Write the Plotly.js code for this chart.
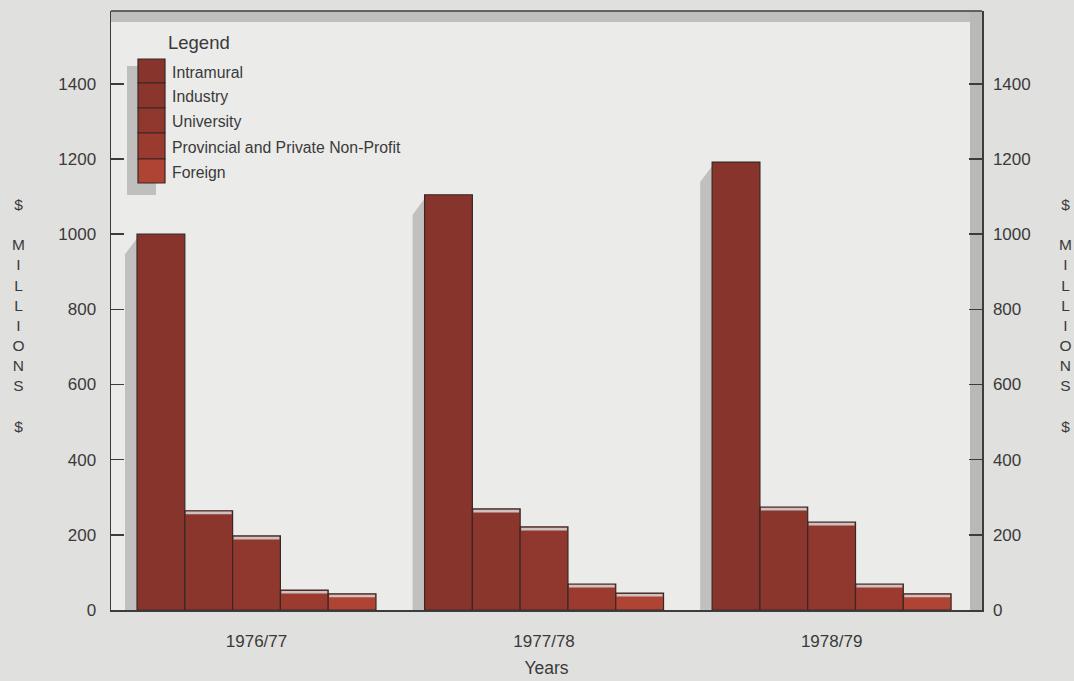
<!DOCTYPE html>
<html>
<head>
<meta charset="utf-8">
<script src="https://cdn.plot.ly/plotly-3.0.1.min.js"></script>
<style>
  html, body { margin: 0; padding: 0; background: #e0e0de; }
  #chart { width: 1074px; height: 681px; }
</style>
</head>
<body>
<div id="chart"></div>
<script>
// R&D expenditure by performer, $ millions
const years = ['1976/77', '1977/78', '1978/79'];
const seriesNames = ['Intramural', 'Industry', 'University', 'Provincial and Private Non-Profit', 'Foreign'];
const intramural = [1000, 1105, 1192];
const industry = [264, 269, 274];
const university = [197, 221, 234];
const provincial = [53, 69, 69];
const foreign = [43, 45, 43];
const yTicks = [0, 200, 400, 600, 800, 1000, 1200, 1400];

const seriesValues = [intramural, industry, university, provincial, foreign];
const barColors = ['#86342c', '#8b362d', '#91382e', '#9b3b30', '#b04434'];

// page geometry
const W = 1074, H = 681;
const M = { l: 111, r: 92, t: 11, b: 71 };
const plotW = W - M.l - M.r, plotH = H - M.t - M.b;
const px = x => (x - M.l) / plotW;            // page pixel -> paper x
const py = y => (H - M.b - y) / plotH;        // page pixel -> paper y

const yMax = 1594;
const xRange = [-0.506, 2.523];
const bargap = 0.169;
const barW = (1 - bargap) / seriesNames.length;
const unitPerPxX = (xRange[1] - xRange[0]) / plotW;
const unitPerPxY = yMax / plotH;

const font = 'Liberation Sans, Arial, Helvetica, sans-serif';
const ink = '#3a3a3a';
const axisCol = '#3c3c3c';

const traces = seriesNames.map((name, j) => ({
  type: 'bar',
  name: name,
  x: years,
  y: seriesValues[j],
  marker: { color: barColors[j], line: { color: '#3a2724', width: 1.2 } },
  hoverinfo: 'x+y+name',
  showlegend: false
}));
// keeps the right-hand value axis present
traces.push({
  type: 'scatter', x: [years[0]], y: [0], yaxis: 'y2',
  mode: 'markers', marker: { opacity: 0 }, hoverinfo: 'skip', showlegend: false
});

const shapes = [];
// frame walls: shaded top and right strips, top edge line
shapes.push({ type: 'rect', xref: 'paper', yref: 'paper', x0: 0, x1: 1, y0: py(22), y1: 1,
  fillcolor: '#bfbfbd', line: { width: 0 }, layer: 'below' });
shapes.push({ type: 'rect', xref: 'paper', yref: 'paper', x0: px(970), x1: 1, y0: 0, y1: 1,
  fillcolor: '#b9b9b7', line: { width: 0 }, layer: 'below' });
shapes.push({ type: 'line', xref: 'paper', yref: 'paper', x0: 0, x1: 1, y0: 1, y1: 1,
  line: { color: axisCol, width: 1.5 } });

// bar shading: side shadow beside each group and light top faces
years.forEach((yr, i) => {
  const left = i - (1 - bargap) / 2;
  const v = intramural[i];
  const sw = 12 * unitPerPxX;
  shapes.push({ type: 'path', xref: 'x', yref: 'y', layer: 'below',
    path: `M ${left - sw},0 L ${left - sw},${v - 20 * unitPerPxY} L ${left},${v - 4 * unitPerPxY} L ${left},0 Z`,
    fillcolor: '#c0c0bf', line: { width: 0 } });
  for (let j = 1; j < seriesNames.length; j++) {
    const x0 = left + j * barW, x1 = x0 + barW;
    const val = seriesValues[j][i];
    shapes.push({ type: 'rect', xref: 'x', yref: 'y', layer: 'above',
      x0: x0 + 1 * unitPerPxX, x1: x1 - 1 * unitPerPxX,
      y0: val - 3.5 * unitPerPxY, y1: val - 0.8 * unitPerPxY,
      fillcolor: '#cdc2bf', line: { width: 0 } });
  }
});

// legend block: stacked swatches with a drop shadow
const swTop = [59, 83, 108, 133, 159, 183];
shapes.push({ type: 'rect', xref: 'paper', yref: 'paper', x0: px(127), x1: px(156), y0: py(195), y1: py(66),
  fillcolor: '#bfbfbd', line: { width: 0 } });
const annotations = [];
seriesNames.forEach((name, k) => {
  shapes.push({ type: 'rect', xref: 'paper', yref: 'paper',
    x0: px(138), x1: px(165), y0: py(swTop[k + 1]), y1: py(swTop[k]),
    fillcolor: barColors[k], line: { color: '#3a2724', width: 1.2 } });
  annotations.push({ xref: 'paper', yref: 'paper', x: px(170), y: py((swTop[k] + swTop[k + 1]) / 2 + 1),
    xanchor: 'left', yanchor: 'middle', showarrow: false, text: name,
    font: { family: font, size: 15.8, color: ink } });
});
annotations.push({ xref: 'paper', yref: 'paper', x: px(166), y: py(42), xanchor: 'left', yanchor: 'middle',
  showarrow: false, text: 'Legend', font: { family: font, size: 18.5, color: ink } });

// stacked axis captions on both sides
const caption = '$<br> <br>M<br>I<br>L<br>L<br>I<br>O<br>N<br>S<br> <br>$';
[18, 1065].forEach(xp => annotations.push({
  xref: 'paper', yref: 'paper', x: px(xp), y: py(315), xanchor: 'center', yanchor: 'middle',
  showarrow: false, text: caption, align: 'center',
  font: { family: font, size: 15.5, color: ink }
}));

const yAxisBase = {
  range: [0, yMax], tickvals: yTicks, ticktext: yTicks.map(String),
  ticks: 'inside', ticklen: 13, tickwidth: 1.5, tickcolor: axisCol,
  showline: true, linecolor: axisCol, linewidth: 1.5, mirror: false,
  showgrid: false, zeroline: false,
  tickfont: { family: font, size: 17, color: ink }, fixedrange: true
};

const layout = {
  width: W, height: H,
  margin: M,
  paper_bgcolor: '#e0e0de',
  plot_bgcolor: '#ebebea',
  barmode: 'group', bargap: bargap, bargroupgap: 0,
  showlegend: false,
  font: { family: font, color: ink },
  xaxis: {
    type: 'category', range: xRange, showline: true, linecolor: axisCol, linewidth: 1.5,
    ticks: '', showgrid: false, zeroline: false, ticklabelstandoff: 15,
    tickfont: { family: font, size: 17, color: ink },
    title: { text: 'Years', font: { family: font, size: 17.5, color: ink }, standoff: 12 },
    fixedrange: true
  },
  yaxis: Object.assign({}, yAxisBase, { side: 'left', ticklabelstandoff: 10 }),
  yaxis2: Object.assign({}, yAxisBase, { side: 'right', overlaying: 'y', anchor: 'x', ticklabelstandoff: 6 }),
  shapes: shapes,
  annotations: annotations
};

Plotly.newPlot('chart', traces, layout, { displayModeBar: false, staticPlot: true });
</script>
</body>
</html>
